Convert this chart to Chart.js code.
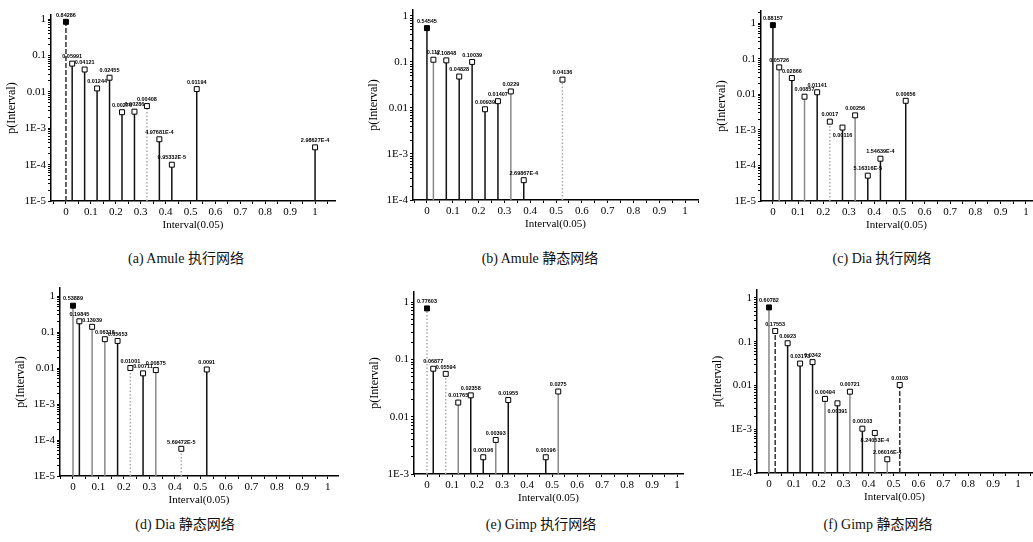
<!DOCTYPE html>
<html>
<head>
<meta charset="utf-8">
<script src="https://cdn.jsdelivr.net/npm/chart.js@4.4.1/dist/chart.umd.min.js"></script>
<style>
body { margin: 0; background: #fff; width: 1033px; height: 542px; position: relative; overflow: hidden; }
canvas { position: absolute; }
.cap { position: absolute; transform: translateX(-50%); font: 14px "Liberation Serif", "Noto Sans CJK SC"; line-height: 18px; white-space: nowrap; color: #111; }
</style>
</head>
<body>
<script>
// tick labels
const xTickLabels = ['0', '0.1', '0.2', '0.3', '0.4', '0.5', '0.6', '0.7', '0.8', '0.9', '1'];
const yTickLabels = ['1', '0.1', '0.01', '1E-3', '1E-4', '1E-5'];

// (a) Amule 执行网络
const amuleExecX = [0, 0.025, 0.075, 0.125, 0.175, 0.225, 0.275, 0.325, 0.375, 0.425, 0.525, 1];
const amuleExecP = [0.84286, 0.05991, 0.04121, 0.01244, 0.02455, 0.00276, 0.00286, 0.00408, 4.97681e-4, 9.95332e-5, 0.01194, 2.98627e-4];

// (b) Amule 静态网络
const amuleStatX = [0, 0.025, 0.075, 0.125, 0.175, 0.225, 0.275, 0.325, 0.375, 0.525];
const amuleStatP = [0.54545, 0.112, 0.10848, 0.04828, 0.10039, 0.00939, 0.01407, 0.0229, 2.69867e-4, 0.04136];

// (c) Dia 执行网络
const diaExecX = [0, 0.025, 0.075, 0.125, 0.175, 0.225, 0.275, 0.325, 0.375, 0.425, 0.525];
const diaExecP = [0.88157, 0.05726, 0.02866, 0.00857, 0.01141, 0.0017, 0.00116, 0.00256, 5.16316e-5, 1.54639e-4, 0.00656];

// (d) Dia 静态网络
const diaStatX = [0, 0.025, 0.075, 0.125, 0.175, 0.225, 0.275, 0.325, 0.425, 0.525];
const diaStatP = [0.53889, 0.19845, 0.13939, 0.06316, 0.05653, 0.01001, 0.00711, 0.00875, 5.69472e-5, 0.0091];

// (e) Gimp 执行网络
const gimpExecX = [0, 0.025, 0.075, 0.125, 0.175, 0.225, 0.275, 0.325, 0.475, 0.525];
const gimpExecP = [0.77603, 0.06877, 0.05594, 0.01765, 0.02358, 0.00196, 0.00393, 0.01955, 0.00196, 0.0275];

// (f) Gimp 静态网络
const gimpStatX = [0, 0.025, 0.075, 0.125, 0.175, 0.225, 0.275, 0.325, 0.375, 0.425, 0.475, 0.525];
const gimpStatP = [0.60782, 0.17553, 0.0923, 0.03173, 0.0342, 0.00494, 0.00391, 0.00721, 0.00103, 8.24053e-4, 2.06016e-4, 0.0103];

// stem styles: k black, g gray, d dotted, h dashed
const panels = [
    { x: amuleExecX, p: amuleExecP, stems: 'hkkkkkkdkkkk', below: [], caption: '(a) Amule 执行网络',
      L: 51, T: 15, R: 335, B: 201, xMin: -0.06, xMax: 1.08, yMin: 1e-5, yMax: 1.3, capX: 186, capY: 259 },
    { x: amuleStatX, p: amuleStatP, stems: 'kgkkkkkgkd', below: [], caption: '(b) Amule 静态网络',
      L: 413, T: 10, R: 698, B: 200, xMin: -0.054, xMax: 1.05, yMin: 1e-4, yMax: 1.35, capX: 540, capY: 259 },
    { x: diaExecX, p: diaExecP, stems: 'kgkgkdkgkkk', below: [6], caption: '(c) Dia 执行网络',
      L: 761, T: 11, R: 1032, B: 201, xMin: -0.047, xMax: 1.024, yMin: 1e-5, yMax: 2.2, capX: 882, capY: 259 },
    { x: diaStatX, p: diaStatP, stems: 'gkggkdkgdk', below: [], caption: '(d) Dia 静态网络',
      L: 60, T: 288, R: 338, B: 476, xMin: -0.051, xMax: 1.04, yMin: 1e-5, yMax: 1.67, capX: 185, capY: 525 },
    { x: gimpExecX, p: gimpExecP, stems: 'dkdgkkgkkg', below: [], caption: '(e) Gimp 执行网络',
      L: 414, T: 292, R: 683, B: 474, xMin: -0.052, xMax: 1.024, yMin: 1e-3, yMax: 1.5, capX: 541, capY: 525 },
    { x: gimpStatX, p: gimpStatP, stems: 'ghkkkgkgkggh', below: [6, 9], caption: '(f) Gimp 静态网络',
      L: 757, T: 290, R: 1032, B: 473, xMin: -0.048, xMax: 1.056, yMin: 1e-4, yMax: 1.52, capX: 878, capY: 525 }
];

const stemStyle = {
    k: { color: '#111', dash: [] },
    g: { color: '#888', dash: [] },
    d: { color: '#aaa', dash: [1.5, 2] },
    h: { color: '#333', dash: [5, 2] }
};

function fmtValue(v) {
    return v >= 0.001 ? String(v) : v.toExponential().toUpperCase();
}

const pointLabels = {
    id: 'pointLabels',
    afterDatasetsDraw(chart, args, opts) {
        const meta = chart.getDatasetMeta(0);
        const ctx = chart.ctx;
        ctx.save();
        ctx.font = 'bold 5.5px "Liberation Sans"';
        ctx.fillStyle = '#000';
        ctx.textAlign = 'center';
        meta.data.forEach((pt, i) => {
            const below = opts.below.includes(i);
            ctx.textBaseline = below ? 'top' : 'bottom';
            ctx.fillText(opts.labels[i], pt.x, below ? pt.y + 5 : pt.y - 4);
        });
        ctx.restore();
    }
};

const tickFont = { family: 'Liberation Serif', size: 11 };

panels.forEach(pn => {
    const cv = document.createElement('canvas');
    const w = pn.R - pn.L + 58, h = pn.B - pn.T + 46;
    cv.width = w; cv.height = h;
    cv.style.left = (pn.L - 50) + 'px';
    cv.style.top = (pn.T - 12) + 'px';
    cv.style.width = w + 'px'; cv.style.height = h + 'px';
    document.body.appendChild(cv);

    const cap = document.createElement('div');
    cap.className = 'cap';
    cap.textContent = pn.caption;
    cap.style.left = pn.capX + 'px';
    cap.style.top = (pn.capY - 9) + 'px';
    document.body.appendChild(cap);

    const datasets = [{
        type: 'scatter',
        data: pn.x.map((x, i) => ({ x: x, y: pn.p[i] })),
        pointStyle: 'rect',
        pointRadius: 3.5,
        pointBackgroundColor: pn.x.map((x, i) => i === 0 ? '#000' : '#fff'),
        pointBorderColor: '#000',
        pointBorderWidth: 1,
        order: 0
    }];
    pn.x.forEach((x, i) => {
        const st = stemStyle[pn.stems[i]];
        datasets.push({
            type: 'scatter',
            showLine: true,
            data: [{ x: x, y: pn.yMin }, { x: x, y: pn.p[i] }],
            borderColor: st.color,
            borderDash: st.dash,
            borderWidth: 1.5,
            pointRadius: 0,
            order: 1
        });
    });

    new Chart(cv, {
        type: 'scatter',
        data: { datasets: datasets },
        plugins: [pointLabels],
        options: {
            responsive: false,
            animation: false,
            devicePixelRatio: 1,
            layout: { padding: { top: 12, right: 8, left: 0, bottom: 0 } },
            plugins: {
                legend: { display: false },
                tooltip: { enabled: false },
                pointLabels: { labels: pn.p.map(fmtValue), below: pn.below }
            },
            scales: {
                x: {
                    type: 'linear',
                    min: pn.xMin,
                    max: pn.xMax,
                    afterBuildTicks: s => {
                        const t = [];
                        for (let k = -1; k <= 21; k++) {
                            const v = Math.round(k * 5) / 100;
                            if (v >= s.min && v <= s.max) t.push({ value: v });
                        }
                        s.ticks = t;
                    },
                    afterFit: s => { s.height = 34; },
                    border: { display: true, color: '#000', width: 1.5 },
                    grid: { drawOnChartArea: false, drawTicks: true, tickLength: 3, tickColor: '#000' },
                    ticks: {
                        font: tickFont, color: '#000', padding: 2, autoSkip: false, maxRotation: 0, minRotation: 0,
                        callback: value => {
                            const k = Math.round(value * 20);
                            if (k % 2 !== 0 || k < 0 || k > 20) return '';
                            return xTickLabels[k / 2];
                        }
                    },
                    title: {
                        display: true, text: 'Interval(0.05)', color: '#000',
                        font: { family: 'Liberation Serif', size: 11 }, padding: { top: 2, bottom: 3 }
                    }
                },
                y: {
                    type: 'logarithmic',
                    min: pn.yMin,
                    max: pn.yMax,
                    afterBuildTicks: s => {
                        const t = [];
                        const e0 = Math.round(Math.log10(s.min));
                        for (let e = e0; e <= 0; e++) {
                            for (let m = 1; m <= 9; m++) {
                                const v = Number((m * Math.pow(10, e)).toPrecision(3));
                                if (v >= s.min && v <= s.max) t.push({ value: v });
                            }
                        }
                        s.ticks = t;
                    },
                    afterFit: s => { s.width = 50; },
                    border: { display: true, color: '#000', width: 1.5 },
                    grid: { drawOnChartArea: false, drawTicks: true, tickLength: 3, tickColor: '#000' },
                    ticks: {
                        font: tickFont, color: '#000', padding: 2, autoSkip: false,
                        callback: value => {
                            const e = Math.log10(value);
                            const r = Math.round(e);
                            if (Math.abs(e - r) > 1e-6) return '';
                            return yTickLabels[-r];
                        }
                    },
                    title: {
                        display: true, text: 'p(Interval)', color: '#000',
                        font: { family: 'Liberation Serif', size: 12 }, padding: { top: 4, bottom: 0 }
                    }
                }
            }
        }
    });
});
</script>
</body>
</html>
